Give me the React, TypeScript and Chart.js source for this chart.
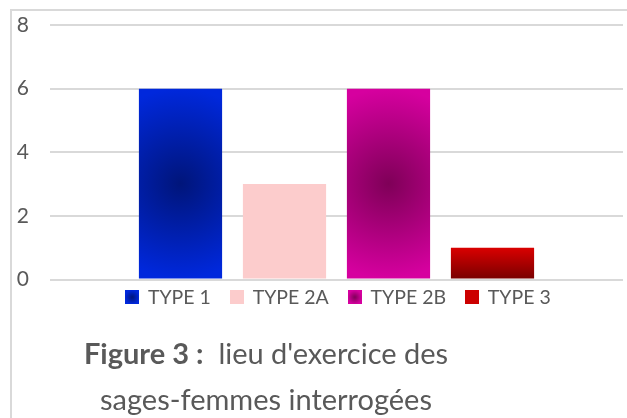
import React, { useEffect, useRef } from 'react';
import { Chart, registerables } from 'chart.js';

Chart.register(...registerables);

// ---- data ----
const categories = [''];
const seriesNames = ['TYPE 1', 'TYPE 2A', 'TYPE 2B', 'TYPE 3'];
const seriesValues = [6, 3, 6, 1];
const yTicks = [0, 2, 4, 6, 8];

// ---- styles ----
type Fill = { kind: 'radial' | 'linear' | 'solid'; inner: string; outer: string; base: string };
const fills: Fill[] = [
  { kind: 'radial', inner: '#00157a', outer: '#0028dc', base: '#0022c4' },
  { kind: 'solid', inner: '#fccccc', outer: '#fccccc', base: '#fccccc' },
  { kind: 'radial', inner: '#7f0058', outer: '#d6009f', base: '#c0008c' },
  { kind: 'linear', inner: '#7a0000', outer: '#da0000', base: '#cc0000' },
];
const textColor = '#595959';
const gridColor = '#d9d9d9';
const fontFamily = 'Lato, "Open Sans", sans-serif';

function makeBg(i: number) {
  return (c: any) => {
    const f = fills[i];
    const el = c.element as any;
    if (f.kind === 'solid' || !el || !Number.isFinite(el.x) || !Number.isFinite(el.width) || !Number.isFinite(el.base)) {
      return f.base;
    }
    const g2 = c.chart.ctx as CanvasRenderingContext2D;
    const top = Math.min(el.y, el.base);
    const bottom = Math.max(el.y, el.base);
    if (f.kind === 'radial') {
      const cx = el.x;
      const cy = (top + bottom) / 2;
      const r = Math.max((bottom - top) / 2, el.width / 2);
      const g = g2.createRadialGradient(cx, cy, 0, cx, cy, r);
      g.addColorStop(0, f.inner);
      g.addColorStop(1, f.outer);
      return g;
    }
    const g = g2.createLinearGradient(0, bottom, 0, top);
    g.addColorStop(0, f.inner);
    g.addColorStop(1, f.outer);
    return g;
  };
}

function makeSwatch(i: number): HTMLCanvasElement {
  const s = 14;
  const cv = document.createElement('canvas');
  cv.width = s;
  cv.height = s;
  const x = cv.getContext('2d')!;
  const f = fills[i];
  if (f.kind === 'radial') {
    const g = x.createRadialGradient(s / 2, s / 2, 0, s / 2, s / 2, s / 2);
    g.addColorStop(0, f.inner);
    g.addColorStop(1, f.outer);
    x.fillStyle = g;
  } else {
    x.fillStyle = f.base;
  }
  x.fillRect(0, 0, s, s);
  return cv;
}

// pulls the legend a little closer to the plot area
const legendShift = {
  id: 'legendShift',
  afterLayout(chart: any) {
    const lg = chart.legend;
    if (lg) {
      lg.top -= 12;
      lg.bottom -= 12;
      lg.left += 2;
      lg.right += 2;
    }
  },
};

export default function App() {
  const ref = useRef<HTMLCanvasElement | null>(null);

  useEffect(() => {
    if (!ref.current) return;
    const swatches = seriesNames.map((_, i) => makeSwatch(i));
    const chart = new Chart(ref.current, {
      type: 'bar',
      data: {
        labels: categories,
        datasets: seriesNames.map((name, i) => ({
          label: name,
          data: [seriesValues[i]],
          backgroundColor: makeBg(i),
          borderWidth: 0,
          categoryPercentage: 0.726,
          barPercentage: 0.8,
        })),
      },
      plugins: [legendShift],
      options: {
        responsive: false,
        animation: false,
        layout: { padding: { left: 15, right: 4, top: 25, bottom: 89 } },
        scales: {
          x: { display: false },
          y: {
            min: 0,
            max: 8,
            afterBuildTicks: (scale: any) => {
              scale.ticks = yTicks.map((v) => ({ value: v }));
            },
            afterFit: (scale: any) => {
              scale.width = 35;
              scale.paddingTop = 0;
              scale.paddingBottom = 0;
            },
            ticks: {
              color: textColor,
              font: { family: fontFamily, size: 21 },
              padding: 21,
            },
            grid: { color: gridColor, lineWidth: 2, drawTicks: false },
            border: { display: false },
          },
        },
        plugins: {
          tooltip: { enabled: false },
          title: { display: false },
          legend: {
            position: 'bottom',
            fullSize: false,
            labels: {
              usePointStyle: true,
              boxWidth: 12,
              boxHeight: 14,
              padding: 20,
              color: textColor,
              font: { family: fontFamily, size: 19.5 },
              generateLabels: () =>
                seriesNames.map((n, i) => ({
                  text: n,
                  pointStyle: swatches[i],
                  fillStyle: fills[i].base,
                  strokeStyle: 'transparent',
                  lineWidth: 0,
                  datasetIndex: i,
                  hidden: false,
                  fontColor: textColor,
                })),
            },
          },
        },
      },
    });
    chart.update();
    return () => chart.destroy();
  }, []);

  const titleLine: React.CSSProperties = {
    position: 'absolute',
    left: 0,
    width: 532,
    textAlign: 'center',
    fontFamily,
    fontSize: 29,
    lineHeight: '29px',
    color: textColor,
    whiteSpace: 'nowrap',
  };

  return (
    <div style={{ position: 'fixed', left: 0, top: 0, width: 627, height: 418, overflow: 'hidden', background: '#fff' }}>
      <div
        style={{
          position: 'absolute',
          left: 10,
          top: 9,
          width: 700,
          height: 500,
          border: '2px solid #d9d9d9',
        }}
      />
      <canvas ref={ref} width={627} height={418} style={{ position: 'absolute', left: 0, top: 0 }} />
      <div style={{ ...titleLine, top: 338 }}>
        <span style={{ fontWeight: 'bold' }}>Figure 3 :</span>
        <span>{'\u00a0 lieu d\'exercice des'}</span>
      </div>
      <div style={{ ...titleLine, top: 384 }}>sages-femmes interrogées</div>
    </div>
  );
}
